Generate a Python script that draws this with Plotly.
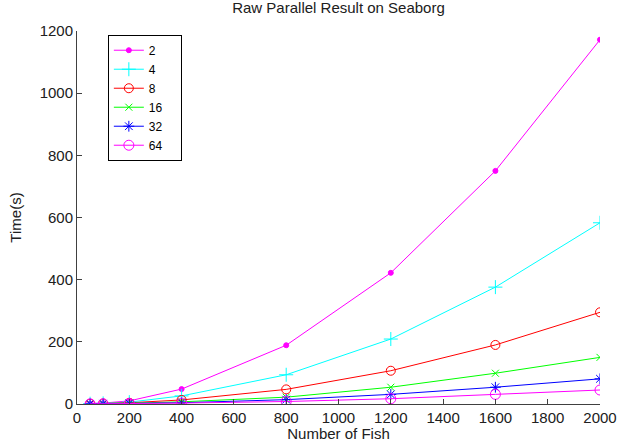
import plotly.graph_objects as go

fish = [50, 100, 200, 400, 800, 1200, 1600, 2000]
labels = ["2", "4", "8", "16", "32", "64"]
t2 = [1.5, 3, 10, 48, 189, 422, 750, 1172]
t4 = [1, 2, 6, 26, 94, 209, 376, 583]
t8 = [0.8, 1.5, 4, 13, 47, 107, 190, 295]
t16 = [0.6, 1, 2.5, 7, 22, 54, 99, 150]
t32 = [0.5, 0.8, 2, 4, 14, 31, 54, 81]
t64 = [0.4, 0.7, 1.5, 3, 8, 17, 31, 45]
series = [t2, t4, t8, t16, t32, t64]

colors = ["#ff00ff", "#00ffff", "#ff0000", "#00ff00", "#0000ff", "#ff00ff"]
symbols = ["circle", "cross-thin-open", "circle-open", "x-thin-open", "asterisk-open", "circle-open"]
sizes = [5, 10, 9, 7, 9, 10]

FONT = "Liberation Sans, Arial"
TXT = "#202020"
PAD = "\u00a0\u00a0\u00a0\u00a0"

fig = go.Figure()
for lab, ys, c, s, sz in zip(labels, series, colors, symbols, sizes):
    fig.add_trace(go.Scatter(
        x=fish, y=ys, name=lab + PAD, mode="lines+markers",
        line=dict(color=c, width=1),
        marker=dict(symbol=s, size=sz, color=c, line=dict(color=c, width=1)),
    ))

axis_common = dict(
    showline=True, linecolor="#404040", linewidth=1,
    ticks="inside", ticklen=5, tickcolor="#404040",
    showgrid=False, zeroline=False, mirror=False, automargin=False,
    tickfont=dict(family=FONT, size=15, color=TXT),
)

fig.update_layout(
    width=618, height=442,
    margin=dict(l=77, r=18, t=31, b=38),
    paper_bgcolor="white", plot_bgcolor="white",
    title=dict(text="Raw Parallel Result on Seaborg", xref="paper", x=0.5, xanchor="center",
               yref="container", y=0.982, yanchor="middle",
               font=dict(family=FONT, size=15, color=TXT)),
    xaxis=dict(range=[0, 2000], tickvals=list(range(0, 2001, 200)),
               title=dict(text="Number of Fish", standoff=0,
                          font=dict(family=FONT, size=15, color=TXT)),
               **axis_common),
    yaxis=dict(range=[0, 1200], tickvals=list(range(0, 1201, 200)),
               title=dict(text="Time(s)", standoff=14,
                          font=dict(family=FONT, size=15, color=TXT)),
               **axis_common),
    legend=dict(x=0.059, y=0.99, xanchor="left", yanchor="top",
                bordercolor="#000000", borderwidth=1, bgcolor="white",
                font=dict(family=FONT, size=12, color="#000000"),
                tracegroupgap=0, itemwidth=30),
    showlegend=True,
)

fig.write_html("out.html", config={"displayModeBar": False},
               post_script="document.body.style.margin='0px';document.body.style.overflow='hidden';")
